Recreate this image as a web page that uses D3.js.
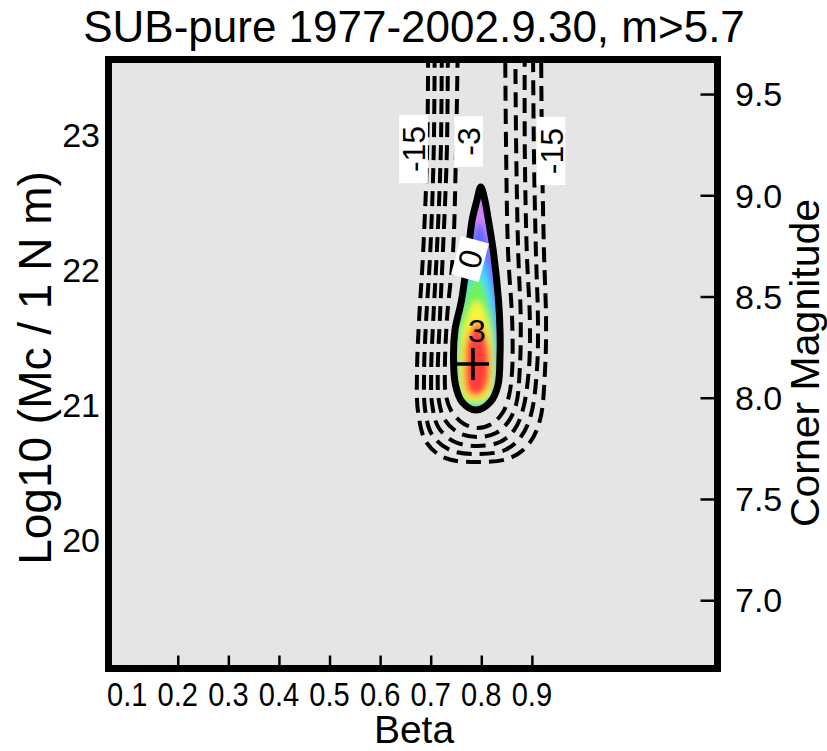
<!DOCTYPE html>
<html>
<head>
<meta charset="utf-8">
<script src="https://cdn.jsdelivr.net/npm/d3@7"></script>
<style>
  body { margin: 0; background: #fff; }
  text { font-family: "Liberation Sans", Arial, Helvetica, sans-serif; fill: #000; }
</style>
</head>
<body>
<svg id="chart" width="827" height="751"></svg>
<script>
// ---- Axis values ----
const betaTickValues = [0.2, 0.3, 0.4, 0.5, 0.6, 0.7, 0.8, 0.9];
const betaLabelValues = [0.1, 0.2, 0.3, 0.4, 0.5, 0.6, 0.7, 0.8, 0.9];
const logMcTickValues = [20, 21, 22, 23];
const magnitudeTickValues = [7.0, 7.5, 8.0, 8.5, 9.0, 9.5];
const betaDomain = [0.07, 1.26];
const logMcDomain = [19.07, 23.53];
const momentOffset = 9.05; // m = (2/3)(log10 M - 9.05)

// ---- Log-likelihood contours, points as [beta, log10 Mc] ----
const contourLevels = [-3, -6, -9, -12, -15];
const contourMinus3 = [[0.754,23.774],[0.750,22.886],[0.744,22.122],[0.732,21.626],[0.728,21.256],[0.730,21.070],[0.742,20.944],[0.766,20.856],[0.793,20.826],[0.821,20.856],[0.843,20.944],[0.855,21.070],[0.861,21.256],[0.861,21.626],[0.853,22.122],[0.849,22.886],[0.847,23.774]];
const contourMinus6 = [[0.734,23.774],[0.732,22.886],[0.724,22.122],[0.718,21.626],[0.714,21.256],[0.716,21.033],[0.728,20.885],[0.756,20.789],[0.793,20.759],[0.829,20.789],[0.853,20.870],[0.869,21.004],[0.876,21.256],[0.878,21.626],[0.873,22.122],[0.869,22.886],[0.867,23.774]];
const contourMinus9 = [[0.722,23.774],[0.720,22.886],[0.712,22.122],[0.705,21.626],[0.701,21.256],[0.703,20.996],[0.716,20.826],[0.748,20.722],[0.793,20.693],[0.837,20.722],[0.865,20.811],[0.882,20.959],[0.894,21.256],[0.896,21.626],[0.890,22.122],[0.886,22.886],[0.886,23.774]];
const contourMinus12 = [[0.708,23.774],[0.706,22.886],[0.699,22.122],[0.691,21.626],[0.687,21.256],[0.689,20.959],[0.703,20.774],[0.738,20.663],[0.793,20.633],[0.847,20.663],[0.878,20.759],[0.898,20.922],[0.910,21.256],[0.912,21.626],[0.908,22.122],[0.904,22.886],[0.902,23.774]];
const contourMinus15 = [[0.695,23.774],[0.693,22.886],[0.685,22.122],[0.677,21.626],[0.673,21.256],[0.675,20.944],[0.691,20.722],[0.728,20.604],[0.793,20.574],[0.857,20.604],[0.894,20.707],[0.916,20.885],[0.926,21.256],[0.928,21.626],[0.924,22.122],[0.920,22.886],[0.918,23.774]];

// Zero level (closed)
const contourZero = [[0.799,22.611],[0.807,22.515],[0.814,22.367],[0.824,22.130],[0.834,21.774],[0.837,21.552],[0.837,21.367],[0.833,21.144],[0.818,21.019],[0.7895,20.959],[0.762,21.019],[0.749,21.144],[0.745,21.367],[0.748,21.552],[0.761,21.774],[0.774,22.130],[0.782,22.367],[0.7915,22.515]];

// Positive levels shading the region above zero
const shadeLevels = [0.6, 1.2, 1.8, 2.4, 3.0];
const shade06 = [[0.7975,22.352],[0.821,22.108],[0.837,21.552],[0.837,21.107],[0.821,20.974],[0.7895,20.937],[0.758,20.974],[0.742,21.107],[0.740,21.552],[0.770,22.108],[0.786,22.293]];
const shade12 = [[0.7935,22.145],[0.817,21.922],[0.831,21.552],[0.833,21.144],[0.817,20.989],[0.7895,20.959],[0.760,20.989],[0.746,21.144],[0.744,21.552],[0.764,21.922],[0.780,22.108]];
const shade18 = [[0.7915,21.959],[0.819,21.700],[0.829,21.367],[0.825,21.107],[0.811,21.011],[0.7895,20.989],[0.766,21.011],[0.754,21.107],[0.750,21.367],[0.758,21.700]];
const shade24 = [[0.7915,21.774],[0.817,21.552],[0.823,21.315],[0.821,21.122],[0.807,21.041],[0.7895,21.026],[0.770,21.041],[0.760,21.122],[0.758,21.315],[0.764,21.552]];
const shade30 = [[0.7915,21.611],[0.811,21.478],[0.817,21.315],[0.813,21.144],[0.801,21.078],[0.7895,21.063],[0.774,21.085],[0.768,21.159],[0.768,21.315],[0.772,21.478]];

// Maximum-likelihood estimate
const peakBeta = 0.7836;
const peakLogMc = 21.30;

// Contour labels: [text, beta, log10 Mc]
const boxedLabels = [["-15", 0.666, 22.893], ["-3", 0.7747, 22.948], ["-15", 0.9378, 22.878], ["0", 0.7777, 22.078]];
const plainLabels = [["3", 0.7915, 21.552]];

// ---- Layout ----
const plot = { left: 112, right: 714, top: 63, bottom: 665 };
const border = 7;

const svg = d3.select("#chart");
const x = d3.scaleLinear().domain(betaDomain).range([plot.left, plot.right]);
const y = d3.scaleLinear().domain(logMcDomain).range([plot.bottom, plot.top]);
const yMag = d3.scaleLinear()
  .domain(logMcDomain.map(v => (v - momentOffset) / 1.5))
  .range([plot.bottom, plot.top]);

const defs = svg.append("defs");
defs.append("clipPath").attr("id", "plotClip")
  .append("rect").attr("x", plot.left).attr("y", plot.top)
  .attr("width", plot.right - plot.left).attr("height", plot.bottom - plot.top);

const closedLine = d3.line().x(d => x(d[0])).y(d => y(d[1])).curve(d3.curveCatmullRomClosed.alpha(0.5));
const openLine = d3.line().x(d => x(d[0])).y(d => y(d[1])).curve(d3.curveCatmullRom.alpha(0.5));

defs.append("clipPath").attr("id", "zeroClip")
  .append("path").attr("d", closedLine(contourZero));
const blur = defs.append("filter").attr("id", "soft")
  .attr("x", "-50%").attr("y", "-50%").attr("width", "200%").attr("height", "200%");
blur.append("feGaussianBlur").attr("stdDeviation", 3);

// Background
svg.append("rect")
  .attr("x", plot.left - border).attr("y", plot.top - border)
  .attr("width", plot.right - plot.left + 2 * border)
  .attr("height", plot.bottom - plot.top + 2 * border)
  .attr("fill", "#e5e5e5");

const inner = svg.append("g").attr("clip-path", "url(#plotClip)");

// Colour shading inside the zero contour
const baseColor = "#cf84ff";
const shadeColors = ["#5f6bff", "#3fd6ff", "#6ef25a", "#fbf43c", "#ff3d3d"];
const shadeGroup = inner.append("g").attr("clip-path", "url(#zeroClip)");
shadeGroup.append("path").attr("d", closedLine(contourZero)).attr("fill", baseColor);
const blurred = shadeGroup.append("g").attr("filter", "url(#soft)");
blurred.append("path").attr("d", closedLine(contourZero)).attr("fill", baseColor);
[shade06, shade12, shade18, shade24, shade30].forEach((pts, i) => {
  blurred.append("path").attr("d", closedLine(pts)).attr("fill", shadeColors[i]);
});

// Dashed negative contours
[contourMinus3, contourMinus6, contourMinus9, contourMinus12, contourMinus15].forEach(pts => {
  inner.append("path").attr("d", openLine(pts))
    .attr("fill", "none").attr("stroke", "#000")
    .attr("stroke-width", 4).attr("stroke-dasharray", "15 8");
});

// Zero contour
inner.append("path").attr("d", closedLine(contourZero))
  .attr("fill", "none").attr("stroke", "#000")
  .attr("stroke-width", 7).attr("stroke-linejoin", "miter");

// Labels with white boxes
const labelFont = 32;
const labelAngles = [-90, -90, -90, -75];
boxedLabels.forEach((d, i) => {
  const g = inner.append("g")
    .attr("transform", `translate(${x(d[1])},${y(d[2])}) rotate(${labelAngles[i]})`);
  const rect = g.append("rect").attr("fill", "#fff");
  const t = g.append("text").text(d[0])
    .attr("font-size", labelFont).attr("text-anchor", "middle").attr("dy", "0.36em");
  const w = t.node().getComputedTextLength() + 22;
  const h = labelFont * 0.9;
  rect.attr("x", -w / 2).attr("y", -h / 2).attr("width", w).attr("height", h);
});
plainLabels.forEach(d => {
  inner.append("text").text(d[0])
    .attr("x", x(d[1])).attr("y", y(d[2]))
    .attr("font-size", labelFont).attr("text-anchor", "middle").attr("dy", "0.36em");
});

// Peak marker
const px = x(peakBeta), py = y(peakLogMc);
inner.append("line").attr("x1", px - 16).attr("x2", px + 16).attr("y1", py).attr("y2", py)
  .attr("stroke", "#000").attr("stroke-width", 3.5);
inner.append("line").attr("x1", px).attr("x2", px).attr("y1", py - 16).attr("y2", py + 16)
  .attr("stroke", "#000").attr("stroke-width", 3.5);

// Ticks (pointing inward)
svg.append("g").attr("transform", `translate(0,${plot.bottom + border / 2})`)
  .call(d3.axisBottom(x).tickValues(betaTickValues).tickSize(-13).tickFormat(""))
  .call(g => g.select(".domain").remove())
  .selectAll("line").attr("stroke", "#000").attr("stroke-width", 2.5);
svg.append("g").attr("transform", `translate(${plot.right + border / 2},0)`)
  .call(d3.axisRight(yMag).tickValues(magnitudeTickValues).tickSize(-17).tickFormat(""))
  .call(g => g.select(".domain").remove())
  .selectAll("line").attr("stroke", "#000").attr("stroke-width", 2.5);

// Frame
svg.append("rect")
  .attr("x", plot.left - border / 2).attr("y", plot.top - border / 2)
  .attr("width", plot.right - plot.left + border).attr("height", plot.bottom - plot.top + border)
  .attr("fill", "none").attr("stroke", "#000").attr("stroke-width", border);

// Tick labels
svg.append("g").selectAll("text").data(betaLabelValues).join("text")
  .attr("transform", d => `translate(${x(d)},706) scale(0.88,1)`)
  .attr("text-anchor", "middle").attr("font-size", 33)
  .text(d => d3.format(".1f")(d));
svg.append("g").selectAll("text").data(logMcTickValues).join("text")
  .attr("x", 100).attr("y", d => y(d)).attr("dy", "0.36em")
  .attr("text-anchor", "end").attr("font-size", 34)
  .text(d => d);
svg.append("g").selectAll("text").data(magnitudeTickValues).join("text")
  .attr("x", 735).attr("y", d => yMag(d)).attr("dy", "0.36em")
  .attr("text-anchor", "start").attr("font-size", 34)
  .text(d => d3.format(".1f")(d));

// Titles
svg.append("text").attr("x", 414).attr("y", 42).attr("text-anchor", "middle")
  .attr("font-size", 44).text("SUB-pure 1977-2002.9.30, m>5.7");
svg.append("text").attr("x", 414).attr("y", 743).attr("text-anchor", "middle")
  .attr("font-size", 39).text("Beta");
svg.append("text").attr("transform", "translate(51,368) rotate(-90)")
  .attr("text-anchor", "middle").attr("font-size", 46).text("Log10 (Mc / 1 N m)");
svg.append("text").attr("transform", "translate(819,363) rotate(-90)")
  .attr("text-anchor", "middle").attr("font-size", 41).text("Corner Magnitude");
</script>
</body>
</html>
